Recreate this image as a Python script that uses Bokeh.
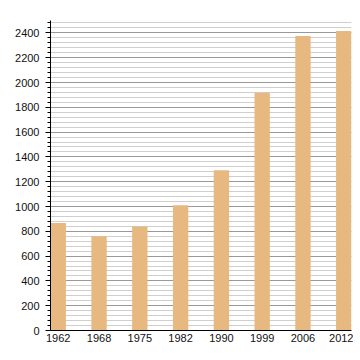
from bokeh.plotting import figure
from bokeh.models import Range1d, SingleIntervalTicker, FixedTicker, ColumnDataSource
from bokeh.embed import file_html
from bokeh.resources import INLINE

years = ["1962", "1968", "1975", "1982", "1990", "1999", "2006", "2012"]
population = [867, 760, 838, 1010, 1293, 1918, 2376, 2416]

xs = list(range(len(years)))
src = ColumnDataSource(dict(x=xs, top=population))

p = figure(output_backend="svg", toolbar_location=None,
           frame_width=301, frame_height=310,
           min_border_left=50, min_border_right=2, min_border_top=20, min_border_bottom=20,
           x_range=Range1d(-0.19, 7.19), y_range=Range1d(0, 2500))
p.outline_line_color = None
p.background_fill_color = "white"
p.border_fill_color = "white"

p.vbar(x="x", top="top", bottom=0, width=0.376, source=src,
       fill_color="#E7B87F", line_color=None)

# y axis
p.yaxis.ticker = SingleIntervalTicker(interval=200, num_minor_ticks=5)
p.yaxis.axis_line_color = "black"
p.yaxis.major_tick_line_color = "black"
p.yaxis.minor_tick_line_color = "black"
p.yaxis.major_tick_out = 5
p.yaxis.major_tick_in = 0
p.yaxis.minor_tick_out = 3
p.yaxis.minor_tick_in = 0
p.yaxis.major_label_standoff = 6
p.yaxis.major_label_text_font = "Liberation Sans"
p.yaxis.major_label_text_font_size = "11px"
p.yaxis.major_label_text_color = "#111111"

# x axis
p.xaxis.ticker = FixedTicker(ticks=xs)
p.xaxis.major_label_overrides = {i: y for i, y in enumerate(years)}
p.xaxis.axis_line_color = "black"
p.xaxis.major_tick_line_color = None
p.xaxis.minor_tick_line_color = None
p.xaxis.major_tick_out = 0
p.xaxis.major_tick_in = 0
p.xaxis.major_label_standoff = 3
p.xaxis.major_label_text_font = "Liberation Sans"
p.xaxis.major_label_text_font_size = "11px"
p.xaxis.major_label_text_color = "#111111"

# grids
p.xgrid.grid_line_color = None
p.ygrid.grid_line_color = "#999999"
p.ygrid.grid_line_width = 1
p.ygrid.minor_grid_line_color = "#cfcfcf"
p.ygrid.minor_grid_line_width = 1
p.ygrid.level = "underlay"

open("out.html", "w").write(file_html(p, INLINE))
